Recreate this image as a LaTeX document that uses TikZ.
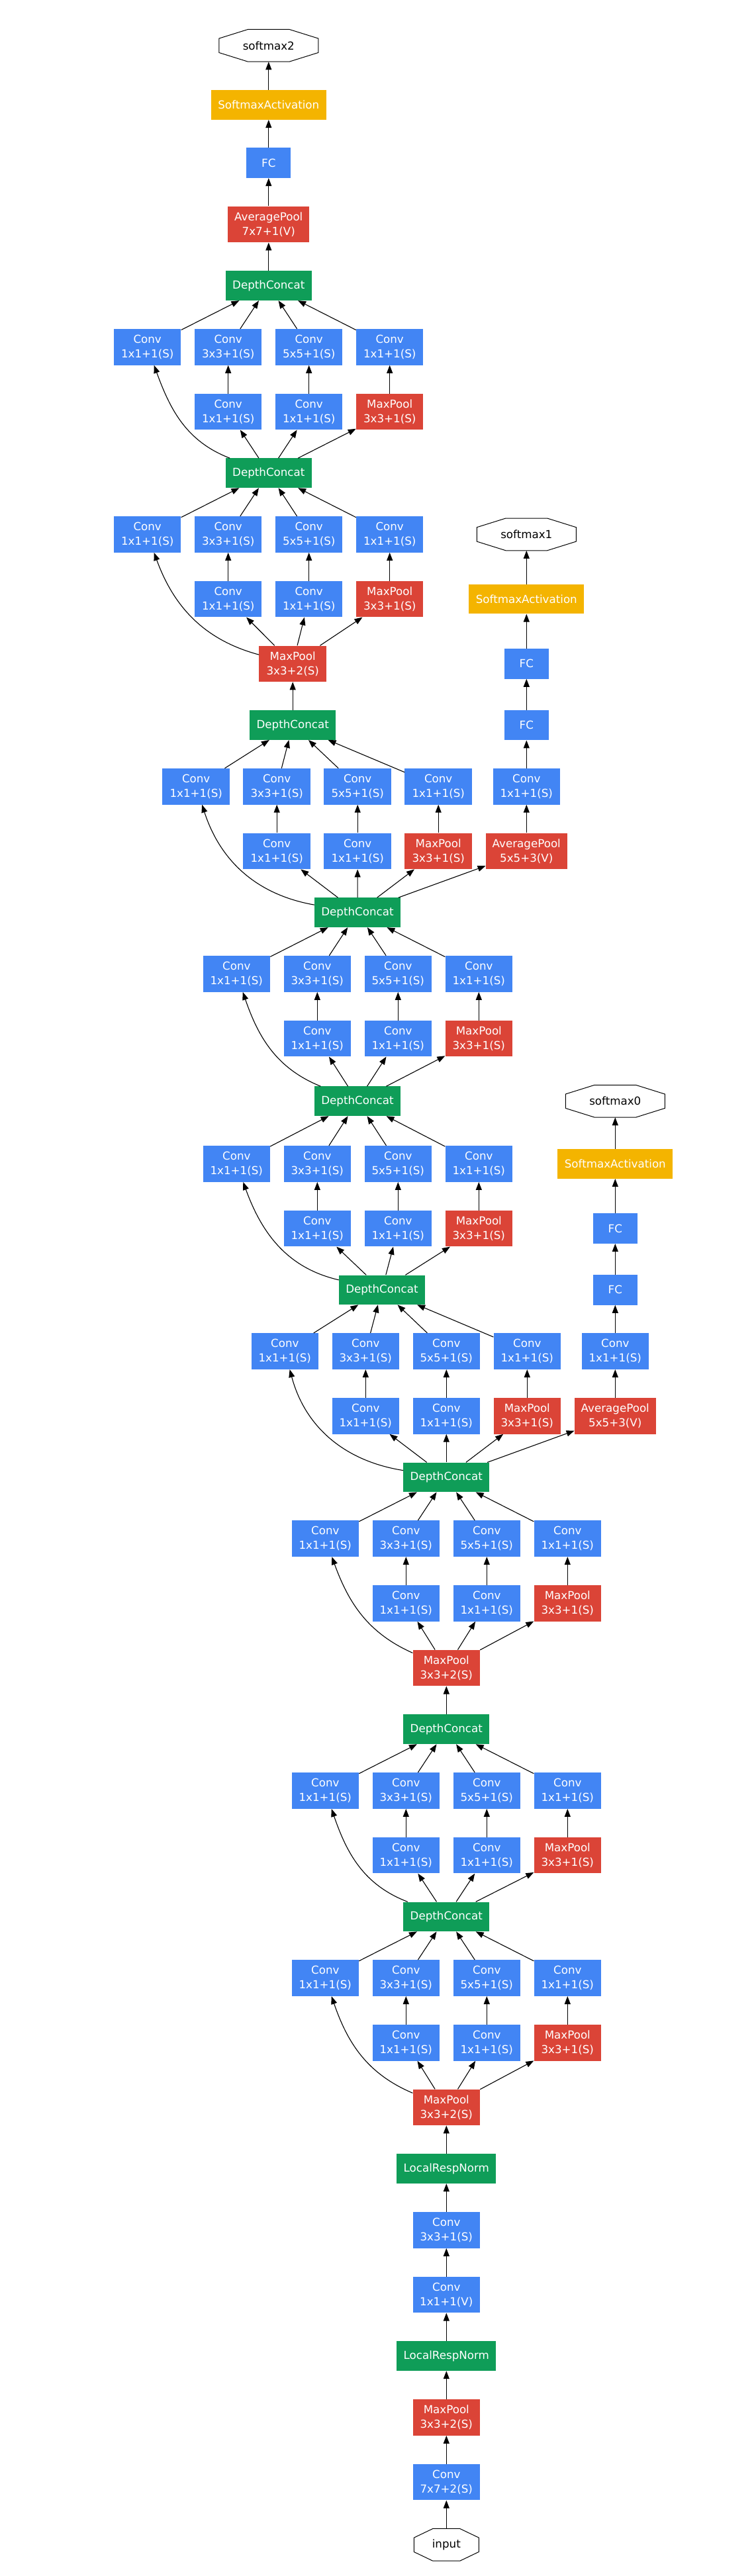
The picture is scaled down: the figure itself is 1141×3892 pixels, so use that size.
\documentclass[tikz,border=0pt]{standalone}
\usepackage{fontspec}
\setmainfont{DejaVu Sans}
\usetikzlibrary{arrows.meta}
\definecolor{gblue}{HTML}{4285F4}
\definecolor{gred}{HTML}{DB4437}
\definecolor{ggreen}{HTML}{0F9D58}
\definecolor{gyellow}{HTML}{F4B400}
\tikzset{
 box/.style={rectangle, inner sep=0pt, text=white, align=center, font=\fontsize{16.7}{22}\selectfont},
 conv/.style={box, fill=gblue, minimum width=101.5pt, minimum height=54.6pt},
 pool/.style={box, fill=gred, minimum width=101.5pt, minimum height=54.6pt},
 avg/.style={box, fill=gred, minimum width=123pt, minimum height=54.7pt},
 cat/.style={box, fill=ggreen, minimum width=130pt, minimum height=44.6pt},
 lrn/.style={box, fill=ggreen, minimum width=150pt, minimum height=44.6pt},
 fc/.style={box, fill=gblue, minimum width=67pt, minimum height=45.5pt},
 sact/.style={box, fill=gyellow, minimum width=174pt, minimum height=44.7pt},
 octn/.style={rectangle, inner sep=0pt, text=black, font=\fontsize{16.7}{22}\selectfont, minimum width=150pt, minimum height=48.7pt},
 octline/.style={draw=black, line width=1pt},
 arr/.style={-{Triangle[length=12pt,width=9pt]}, line width=1.1pt},
}
% inception module: prefix, x of col1, y top row, y bottom row, input, output, out angle, in angle
\newcommand{\incep}[8]{%
 \node[conv] (#1t1) at (#2,#3) {Conv\\1x1+1(S)};
 \node[conv] (#1t2) at (#2+122,#3) {Conv\\3x3+1(S)};
 \node[conv] (#1t3) at (#2+244,#3) {Conv\\5x5+1(S)};
 \node[conv] (#1t4) at (#2+366,#3) {Conv\\1x1+1(S)};
 \node[conv] (#1b2) at (#2+122,#4) {Conv\\1x1+1(S)};
 \node[conv] (#1b3) at (#2+244,#4) {Conv\\1x1+1(S)};
 \node[pool] (#1b4) at (#2+366,#4) {MaxPool\\3x3+1(S)};
 \draw[arr] (#5) to[out=#7,in=#8] (#1t1);
 \draw[arr] (#5) -- (#1b2);
 \draw[arr] (#5) -- (#1b3);
 \draw[arr] (#5) -- (#1b4);
 \draw[arr] (#1b2) -- (#1t2);
 \draw[arr] (#1b3) -- (#1t3);
 \draw[arr] (#1b4) -- (#1t4);
 \draw[arr] (#1t1) -- (#6);
 \draw[arr] (#1t2) -- (#6);
 \draw[arr] (#1t3) -- (#6);
 \draw[arr] (#1t4) -- (#6);
}
\newcommand{\octo}[3]{%
 \draw[octline, shift={(#1.center)}] (-#2,-24.35) -- (#2,-24.35) -- (#3,-10.7) -- (#3,10.7) -- (#2,24.35) -- (-#2,24.35) -- (-#3,10.7) -- (-#3,-10.7) -- cycle;
}
\begin{document}
\begin{tikzpicture}[x=1pt,y=-1pt]
\fill[white] (0,0) rectangle (1141,3892);
\useasboundingbox (0,0) rectangle (1141,3892);

% top classifier
\node[octn] (sm2) at (405.8,68.8) {softmax2};
\octo{sm2}{31.4}{75}
\node[sact] (sa2) at (405.8,158.5) {SoftmaxActivation};
\node[fc] (fc2) at (405.8,246.2) {FC};
\node[avg] (ap2) at (405.8,338.9) {AveragePool\\7x7+1(V)};
\node[cat] (dc4) at (405.8,431.6) {DepthConcat};
\draw[arr] (dc4) -- (ap2);
\draw[arr] (ap2) -- (fc2);
\draw[arr] (fc2) -- (sa2);
\draw[arr] (sa2) -- (sm2);

% main column nodes
\node[cat] (dc7) at (405.8,714.7) {DepthConcat};
\node[pool] (mp10) at (442.2,1002.8) {MaxPool\\3x3+2(S)};
\node[cat] (dc11) at (442.2,1095.5) {DepthConcat};
\node[cat] (dc14) at (540,1378.6) {DepthConcat};
\node[cat] (dc17) at (540,1663.7) {DepthConcat};
\node[cat] (dc20) at (576.9,1948.8) {DepthConcat};
\node[cat] (dc23) at (674.3,2231.9) {DepthConcat};
\node[pool] (mp26) at (674.3,2520) {MaxPool\\3x3+2(S)};
\node[cat] (dc27) at (674.3,2612.7) {DepthConcat};
\node[cat] (dc30) at (674.3,2895.8) {DepthConcat};
\node[pool] (mp33) at (674.3,3183.9) {MaxPool\\3x3+2(S)};
\node[lrn] (lrn34) at (674.3,3276.6) {LocalRespNorm};
\node[conv] (cv35) at (674.3,3369.3) {Conv\\3x3+1(S)};
\node[conv] (cv36) at (674.3,3467) {Conv\\1x1+1(V)};
\node[lrn] (lrn37) at (674.3,3559.7) {LocalRespNorm};
\node[pool] (mp38) at (674.3,3652.4) {MaxPool\\3x3+2(S)};
\node[conv] (cv39) at (674.3,3750.1) {Conv\\7x7+2(S)};
\node[octn, minimum width=98pt] (inp) at (674.3,3844.8) {input};
\octo{inp}{20.5}{49}

\draw[arr] (inp) -- (cv39);
\draw[arr] (cv39) -- (mp38);
\draw[arr] (mp38) -- (lrn37);
\draw[arr] (lrn37) -- (cv36);
\draw[arr] (cv36) -- (cv35);
\draw[arr] (cv35) -- (lrn34);
\draw[arr] (lrn34) -- (mp33);
\draw[arr] (dc27) -- (mp26);
\draw[arr] (dc11) -- (mp10);

% inception modules
\incep{A}{222.7}{524.3}{622.0}{dc7}{dc4}{159}{-70}
\incep{B}{222.7}{807.4}{905.1}{mp10}{dc7}{165}{-70}
\incep{C}{296.2}{1188.2}{1285.9}{dc14}{dc11}{170}{-72}
\incep{D}{357.3}{1471.3}{1569.0}{dc17}{dc14}{158}{-71}
\incep{E}{357.3}{1758.4}{1856.1}{dc20}{dc17}{167}{-70}
\incep{F}{430.3}{2041.5}{2139.2}{dc23}{dc20}{171}{-75}
\incep{G}{491.3}{2324.6}{2422.3}{mp26}{dc23}{156}{-70}
\incep{H}{491.3}{2705.4}{2803.1}{dc30}{dc27}{159}{-71}
\incep{I}{491.3}{2988.5}{3086.2}{mp33}{dc30}{157}{-71}

% auxiliary classifier 1
\node[octn] (sm1) at (795.3,807.4) {softmax1};
\octo{sm1}{31.4}{75}
\node[sact] (sa1) at (795.3,905.1) {SoftmaxActivation};
\node[fc] (fc1a) at (795.3,1002.8) {FC};
\node[fc] (fc1b) at (795.3,1095.5) {FC};
\node[conv] (cv1) at (795.3,1188.2) {Conv\\1x1+1(S)};
\node[avg] (ap1) at (795.3,1285.9) {AveragePool\\5x5+3(V)};
\draw[arr] (dc14) -- (ap1);
\draw[arr] (ap1) -- (cv1);
\draw[arr] (cv1) -- (fc1b);
\draw[arr] (fc1b) -- (fc1a);
\draw[arr] (fc1a) -- (sa1);
\draw[arr] (sa1) -- (sm1);

% auxiliary classifier 0
\node[octn] (sm0) at (929.3,1663.7) {softmax0};
\octo{sm0}{31.4}{75}
\node[sact] (sa0) at (929.3,1758.4) {SoftmaxActivation};
\node[fc] (fc0a) at (929.3,1856.1) {FC};
\node[fc] (fc0b) at (929.3,1948.8) {FC};
\node[conv] (cv0) at (929.3,2041.5) {Conv\\1x1+1(S)};
\node[avg] (ap0) at (929.3,2139.2) {AveragePool\\5x5+3(V)};
\draw[arr] (dc23) -- (ap0);
\draw[arr] (ap0) -- (cv0);
\draw[arr] (cv0) -- (fc0b);
\draw[arr] (fc0b) -- (fc0a);
\draw[arr] (fc0a) -- (sa0);
\draw[arr] (sa0) -- (sm0);
\end{tikzpicture}
\end{document}
